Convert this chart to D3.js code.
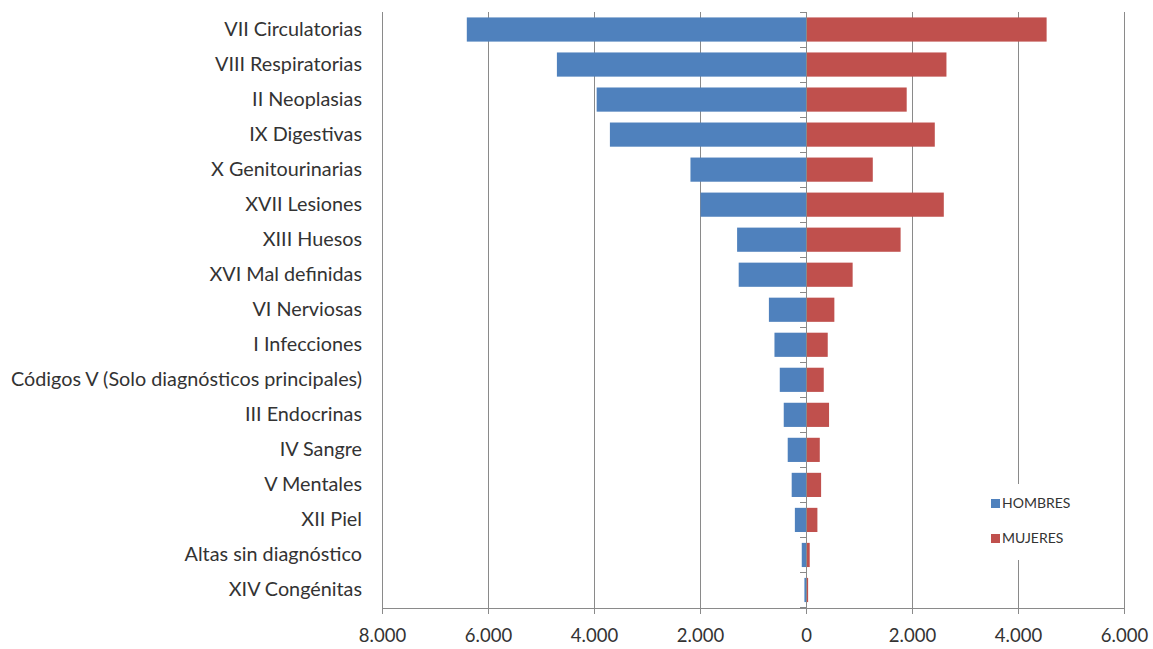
<!DOCTYPE html>
<html lang="es">
<head>
<meta charset="utf-8">
<script src="https://cdn.jsdelivr.net/npm/d3@7"></script>
<style>
  html, body { margin: 0; padding: 0; background: #fff; }
  svg { display: block; }
  text { font-family: Lato, "Open Sans", sans-serif; fill: #333; }
</style>
</head>
<body>
<svg id="chart" width="1153" height="649"></svg>
<script>
// Altas hospitalarias por capítulo de diagnóstico, según sexo
const categories = [
  "VII Circulatorias",
  "VIII Respiratorias",
  "II Neoplasias",
  "IX Digestivas",
  "X Genitourinarias",
  "XVII Lesiones",
  "XIII Huesos",
  "XVI Mal definidas",
  "VI Nerviosas",
  "I Infecciones",
  "Códigos V (Solo diagnósticos principales)",
  "III Endocrinas",
  "IV Sangre",
  "V Mentales",
  "XII Piel",
  "Altas sin diagnóstico",
  "XIV Congénitas"
];
const hombres = [6400, 4700, 3950, 3700, 2180, 1990, 1300, 1270, 700, 595, 495, 420, 345, 270, 210, 80, 30];
const mujeres = [4540, 2650, 1900, 2430, 1260, 2600, 1785, 880, 535, 410, 335, 435, 260, 285, 215, 70, 40];
const xTicks = [-8000, -6000, -4000, -2000, 0, 2000, 4000, 6000];
const seriesNames = ["HOMBRES", "MUJERES"];
const colors = { HOMBRES: "#4F81BD", MUJERES: "#C0504D" };

const svg = d3.select("#chart");
const plot = { left: 382, right: 1124, top: 12, bottom: 607.5 };

const x = d3.scaleLinear().domain([-8000, 6000]).range([plot.left, plot.right]);
const y = d3.scaleBand().domain(categories).range([plot.top, plot.bottom])
  .paddingInner(0.31).paddingOuter(0.155);

const locale = d3.formatLocale({ decimal: ",", thousands: ".", grouping: [3], currency: ["", ""] });
const fmt = locale.format(",d");
const gridColor = "#8a8a8a";

// vertical gridlines (zero is drawn later as the category axis)
svg.append("g").selectAll("line")
  .data(xTicks.filter(d => d !== 0))
  .join("line")
  .attr("x1", d => x(d)).attr("x2", d => x(d))
  .attr("y1", plot.top).attr("y2", plot.bottom)
  .attr("stroke", gridColor).attr("stroke-width", 1)
  .attr("shape-rendering", "crispEdges");

// bars
const rows = categories.map((c, i) => ({ c, h: hombres[i], m: mujeres[i] }));
svg.append("g").selectAll("rect")
  .data(rows).join("rect")
  .attr("x", d => x(-d.h)).attr("width", d => x(0) - x(-d.h))
  .attr("y", d => y(d.c)).attr("height", y.bandwidth())
  .attr("fill", colors.HOMBRES);
svg.append("g").selectAll("rect")
  .data(rows).join("rect")
  .attr("x", x(0)).attr("width", d => x(d.m) - x(0))
  .attr("y", d => y(d.c)).attr("height", y.bandwidth())
  .attr("fill", colors.MUJERES);

// bottom value axis
const xAxis = d3.axisBottom(x).tickValues(xTicks).tickSize(6).tickPadding(15)
  .tickFormat(d => fmt(Math.abs(d)));
const gx = svg.append("g").attr("transform", `translate(0,${plot.bottom})`).call(xAxis);
gx.select(".domain").attr("stroke", gridColor).attr("shape-rendering", "crispEdges");
gx.selectAll(".tick line").attr("stroke", gridColor).attr("shape-rendering", "crispEdges");
gx.selectAll(".tick text").attr("font-size", 18.5).style("font-family", "Lato, 'Open Sans', sans-serif").attr("fill", "#333");

// category axis at zero with ticks at band boundaries
const boundaries = d3.range(categories.length + 1).map(i => plot.top + i * (plot.bottom - plot.top) / categories.length);
const gy = svg.append("g");
gy.append("line")
  .attr("x1", x(0)).attr("x2", x(0)).attr("y1", plot.top).attr("y2", plot.bottom)
  .attr("stroke", gridColor).attr("shape-rendering", "crispEdges");
gy.selectAll("line.tk").data(boundaries).join("line").attr("class", "tk")
  .attr("x1", x(0) - 6).attr("x2", x(0)).attr("y1", d => d).attr("y2", d => d)
  .attr("stroke", gridColor).attr("shape-rendering", "crispEdges");

// category labels
svg.append("g").selectAll("text")
  .data(categories).join("text")
  .attr("x", 362)
  .attr("y", d => y(d) + y.bandwidth() / 2 + 6)
  .attr("text-anchor", "end")
  .attr("font-size", 19.8)
  .text(d => d);

// legend
const lg = svg.append("g");
lg.append("rect").attr("x", 984).attr("y", 484).attr("width", 96).attr("height", 76).attr("fill", "#fff");
seriesNames.forEach((s, i) => {
  const yy = 499 + i * 35;
  lg.append("rect").attr("x", 991).attr("y", yy).attr("width", 9).attr("height", 9).attr("fill", colors[s]);
  lg.append("text").attr("x", 1002).attr("y", yy + 9).attr("font-size", 14).text(s);
});
</script>
</body>
</html>
